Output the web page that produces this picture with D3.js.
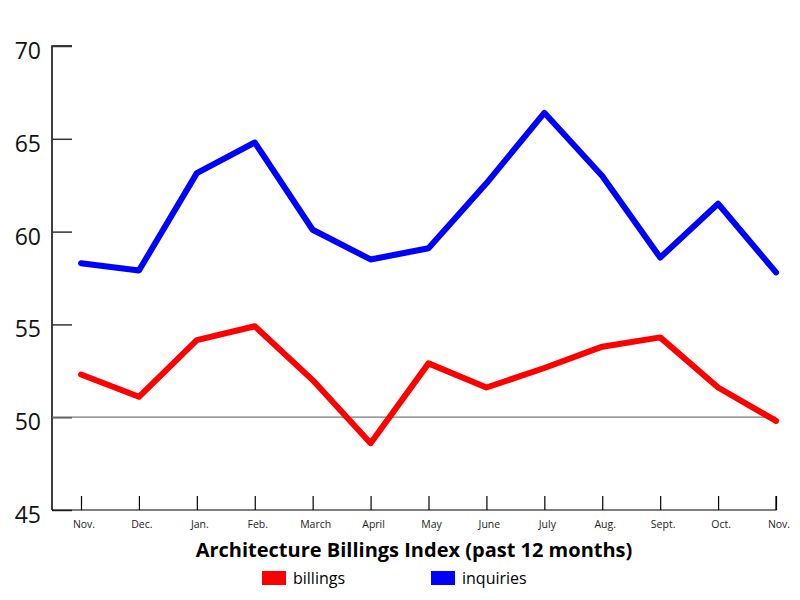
<!DOCTYPE html>
<html><head><meta charset="utf-8">
<script src="https://cdn.jsdelivr.net/npm/d3@7"></script>
<style>body{margin:0;background:#fff;} svg{display:block;font-family:"Open Sans",sans-serif;}</style>
</head><body>
<svg id="c" width="800" height="600"></svg>
<script>
const months = ["Nov.","Dec.","Jan.","Feb.","March","April","May","June","July","Aug.","Sept.","Oct.","Nov."];
const billings = [52.3,51.1,54.15,54.9,52.0,48.6,52.9,51.6,52.65,53.8,54.3,51.6,49.8];
const inquiries = [58.3,57.9,63.15,64.8,60.1,58.5,59.1,62.6,66.4,63.0,58.6,61.5,57.8];
const yTicks = [45,50,55,60,65,70];
const seriesNames = ["billings","inquiries"];
const seriesColors = ["#ff0000","#0000ff"];

const svg = d3.select("#c");
const x = d3.scalePoint().domain(d3.range(months.length)).range([81,776]);
const y = d3.scaleLinear().domain([45,70]).range([510,46]);

// y axis
const ya = svg.append("g").attr("transform","translate(52,0)")
  .call(d3.axisRight(y).tickValues(yTicks).tickSize(20).tickFormat(""));
ya.select(".domain").attr("stroke","#000").attr("stroke-width",1.5).attr("d","M20,46H0V510");
ya.selectAll(".tick line").attr("stroke","#333").attr("stroke-width",1.5);
svg.append("g").selectAll("text").data(yTicks).join("text")
  .attr("x",41).attr("y",d=>y(d)+13).attr("text-anchor","end")
  .attr("font-size",23).attr("fill","#111").text(d=>d);

// x axis
const xa = svg.append("g").attr("transform","translate(0,510)")
  .call(d3.axisTop(x).tickSize(14).tickFormat(""));
xa.select(".domain").attr("stroke","#000").attr("stroke-width",1.2).attr("d","M52,0H776V-14");
xa.selectAll(".tick line").attr("stroke","#000").attr("stroke-width",1.2);
svg.append("g").selectAll("text").data(months).join("text")
  .attr("x",(d,i)=>x(i)+3).attr("y",528).attr("text-anchor","middle")
  .attr("font-size",10.5).attr("fill","#222").text(d=>d);

// reference line at 50
svg.append("line").attr("x1",52).attr("x2",776).attr("y1",y(50)).attr("y2",y(50))
  .attr("stroke","#777").attr("stroke-width",1.2);

const line = d3.line().x((d,i)=>x(i)).y(d=>y(d));
[billings,inquiries].forEach((s,k)=>{
  svg.append("path").datum(s).attr("d",line).attr("fill","none")
    .attr("stroke",seriesColors[k]).attr("stroke-width",6)
    .attr("stroke-linejoin","round").attr("stroke-linecap","round");
});

svg.append("text").attr("x",414).attr("y",557).attr("text-anchor","middle")
  .attr("font-size",20).attr("font-weight","bold").attr("fill","#000")
  .text("Architecture Billings Index (past 12 months)");

const lx = [262,431];
seriesNames.forEach((n,k)=>{
  svg.append("rect").attr("x",lx[k]).attr("y",571).attr("width",24).attr("height",14).attr("fill",seriesColors[k]);
  svg.append("text").attr("x",lx[k]+31).attr("y",584).attr("font-size",16).attr("fill","#000").text(n);
});
</script>
</body></html>
